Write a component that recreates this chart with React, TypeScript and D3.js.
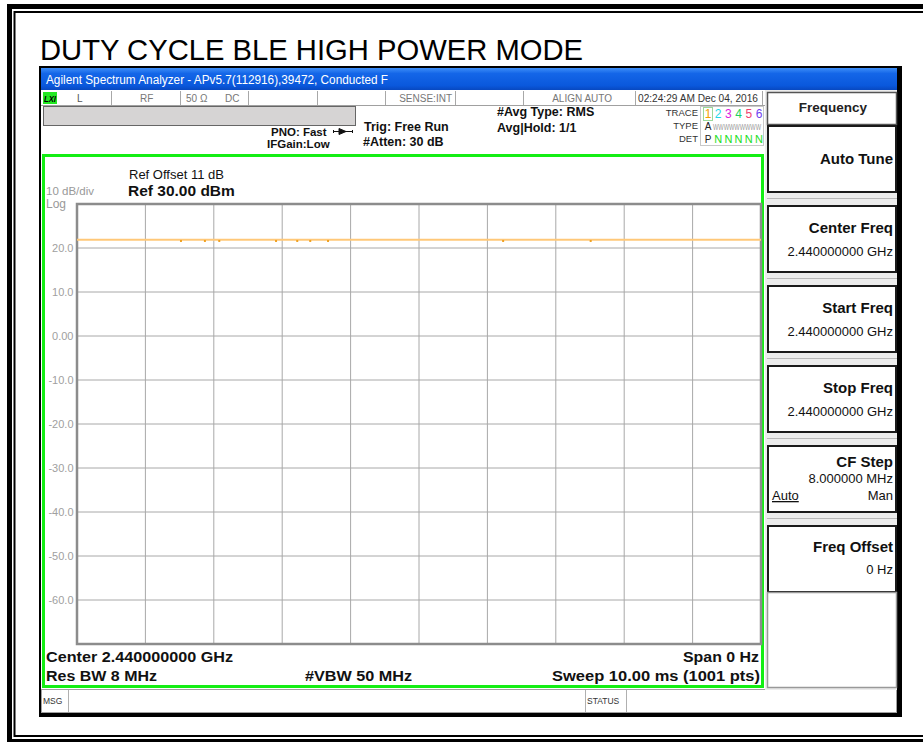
import React from "react";
import * as d3 from "d3";

// ---- data ----
const yTicks = [30, 20, 10, 0, -10, -20, -30, -40, -50, -60, -70];
const yTickLabels = ["", "20.0", "10.0", "0.00", "-10.0", "-20.0", "-30.0", "-40.0", "-50.0", "-60.0", ""];
const xDivs = [0, 1, 2, 3, 4, 5, 6, 7, 8, 9, 10]; // ms
const traceT = [0, 1, 2, 3, 4, 5, 6, 7, 8, 9, 10]; // ms
const traceV = [21.9, 21.9, 21.9, 21.9, 21.9, 21.9, 21.9, 21.9, 21.9, 21.9, 21.9]; // dBm
const glitchT = [1.52, 1.87, 2.08, 2.91, 3.22, 3.41, 3.67, 6.23, 7.51];
const glitchV = [21.6, 21.6, 21.6, 21.6, 21.6, 21.6, 21.6, 21.6, 21.6];
const softLabels = ["Auto Tune", "Center Freq", "Start Freq", "Stop Freq", "CF Step", "Freq Offset"];
const softValues = ["", "2.440000000 GHz", "2.440000000 GHz", "2.440000000 GHz", "8.000000 MHz", "0 Hz"];
const traceDigits = ["1", "2", "3", "4", "5", "6"];
const traceColors = ["#f5a000", "#22d8e8", "#e020e0", "#20d060", "#f04070", "#7040f0"];

const F = "'Liberation Sans', Arial, sans-serif";
const FN = "'Liberation Sans Narrow', 'Liberation Sans', Arial, sans-serif";

export default function App() {
  const x = d3.scaleLinear().domain([0, 10]).range([77, 761]);
  const y = d3.scaleLinear().domain([-70, 30]).range([644, 204]);
  const line = d3
    .line<number>()
    .x((_, i) => x(traceT[i]))
    .y((d) => y(d));

  const statusSeps = [111, 180, 248, 317, 385, 455, 523, 635, 762];

  return (
    <svg
      width={923}
      height={742}
      style={{ position: "absolute", left: 0, top: 0, background: "#fff" }}
      fontFamily={F}
    >
      {/* outer double frame */}
      <rect x={9.5} y={6.5} width={930} height={735} fill="none" stroke="#000" strokeWidth={5} />
      <rect x={14.5} y={12} width={920} height={724} fill="none" stroke="#000" strokeWidth={2} />

      {/* title */}
      <text x={40} y={60} fontSize={29} fill="#000" textLength={543} lengthAdjust="spacingAndGlyphs">
        DUTY CYCLE BLE HIGH POWER MODE
      </text>

      {/* screenshot frame */}
      <rect x={39} y={66} width={863} height={651} fill="#000" />
      <rect x={41} y={68} width={856} height={645} fill="#fff" />
      <defs>
        <linearGradient id="tb" x1="0" x2="0" y1="0" y2="1">
          <stop offset="0" stopColor="#3d8ef7" />
          <stop offset="0.25" stopColor="#1466e8" />
          <stop offset="0.8" stopColor="#0a58dc" />
          <stop offset="1" stopColor="#0848c0" />
        </linearGradient>
      </defs>
      <rect x={41} y={68} width={856} height={22} fill="url(#tb)" />
      <text x={46} y={84} fontSize={12} fill="#fff" textLength={342} lengthAdjust="spacingAndGlyphs">
        Agilent Spectrum Analyzer - APv5.7(112916),39472, Conducted F
      </text>

      {/* status row */}
      <rect x={41} y={90} width={724} height={15} fill="#fff" />
      <line x1={41} x2={765} y1={105.5} y2={105.5} stroke="#a0a0a0" />
      {statusSeps.map((s) => (
        <line key={s} x1={s + 0.5} x2={s + 0.5} y1={91} y2={105} stroke="#a8a8a8" />
      ))}
      <rect x={43} y={92} width={14} height={12} fill="#22e822" />
      <text x={44} y={102} fontSize={9} fontWeight="bold" fontStyle="italic" fill="#000" textLength={12} lengthAdjust="spacingAndGlyphs">LXI</text>
      <text x={77} y={102} fontSize={10} fill="#555">L</text>
      <text x={140} y={102} fontSize={10} fill="#777">RF</text>
      <text x={186} y={102} fontSize={10} fill="#777">50 Ω</text>
      <text x={225} y={102} fontSize={10} fill="#777">DC</text>
      <text x={452} y={102} fontSize={10} fill="#777" textAnchor="end">SENSE:INT</text>
      <text x={612} y={102} fontSize={10} fill="#777" textAnchor="end">ALIGN AUTO</text>
      <text x={638} y={102} fontSize={11} fill="#333" textLength={120} lengthAdjust="spacingAndGlyphs">
        02:24:29 AM Dec 04, 2016
      </text>

      {/* gray bar */}
      <rect x={43.5} y={106.5} width={312} height={19} fill="#d6d4d4" stroke="#666" />

      <text x={271} y={136} fontSize={11.5} fontWeight="bold" fill="#111">PNO: Fast</text>
      <g stroke="#111" fill="#111">
        <line x1={333} x2={353} y1={131.5} y2={131.5} strokeWidth={1} />
        <path d="M339,128.5 L346,131.5 L339,134.5 Z" />
        <line x1={333.5} x2={333.5} y1={130} y2={133} />
        <line x1={352.5} x2={352.5} y1={130} y2={133} />
      </g>
      <text x={267} y={148} fontSize={11.5} fontWeight="bold" fill="#111">IFGain:Low</text>
      <text x={364} y={131} fontSize={12.5} fontWeight="bold" fill="#111">Trig: Free Run</text>
      <text x={363} y={146} fontSize={12.5} fontWeight="bold" fill="#111">#Atten: 30 dB</text>
      <text x={497} y={116} fontSize={12.5} fontWeight="bold" fill="#111">#Avg Type: RMS</text>
      <text x={497} y={132} fontSize={12.5} fontWeight="bold" fill="#111">Avg|Hold: 1/1</text>

      {/* trace table */}
      <text x={698} y={116} fontSize={9.5} fill="#333" textAnchor="end">TRACE</text>
      <text x={698} y={129} fontSize={9.5} fill="#333" textAnchor="end">TYPE</text>
      <text x={698} y={142} fontSize={9.5} fill="#333" textAnchor="end">DET</text>
      <rect x={700.5} y={106.5} width={63} height={39} fill="none" stroke="#c8c8c8" />
      <rect x={703.5} y={107.5} width={9} height={13} fill="none" stroke="#9ad89a" />
      {traceDigits.map((dg, i) => (
        <text key={dg} x={708 + i * 10.2} y={118} fontSize={12} fill={traceColors[i]} textAnchor="middle">
          {dg}
        </text>
      ))}
      <text x={708} y={130} fontSize={10} fill="#222" textAnchor="middle">A</text>
      <text x={713} y={130} fontSize={8.5} fill="#9a9a9a" textLength={48} lengthAdjust="spacingAndGlyphs">WWWWWWWWW</text>
      <text x={708} y={143} fontSize={10} fill="#222" textAnchor="middle">P</text>
      {[1, 2, 3, 4, 5].map((i) => (
        <text key={i} x={708 + i * 10.2} y={143} fontSize={11} fill="#22dd22" textAnchor="middle">N</text>
      ))}

      {/* plot frame */}
      <rect x={43.5} y={155.5} width={719} height={531} fill="#fff" stroke="#14ee14" strokeWidth={3} />

      <text x={129} y={179} fontSize={13} fill="#111">Ref Offset 11 dB</text>
      <text x={128} y={196} fontSize={15.5} fontWeight="bold" fill="#111">Ref 30.00 dBm</text>
      <text x={46} y={194.5} fontSize={11.5} fill="#999">10 dB/div</text>
      <text x={46} y={207.5} fontSize={12} fill="#999">Log</text>

      {/* grid */}
      {yTicks.map((t) => (
        <line key={"h" + t} x1={x(0)} x2={x(10)} y1={y(t)} y2={y(t)} stroke="#a8a8a8" strokeWidth={1} />
      ))}
      {xDivs.map((t) => (
        <line key={"v" + t} x1={x(t)} x2={x(t)} y1={y(30)} y2={y(-70)} stroke="#a8a8a8" strokeWidth={1} />
      ))}
      <rect x={x(0)} y={y(30)} width={x(10) - x(0)} height={y(-70) - y(30)} fill="none" stroke="#8c8c8c" strokeWidth={2.5} />
      {yTicks.map((t, i) =>
        yTickLabels[i] ? (
          <text key={"l" + t} x={73.5} y={y(t) + 4} fontSize={11} fill="#a0a0a0" textAnchor="end">
            {yTickLabels[i]}
          </text>
        ) : null
      )}

      {/* trace */}
      <path d={line(traceV) || ""} fill="none" stroke="#ffc878" strokeWidth={2} />
      {glitchT.map((t, i) => (
        <rect key={"g" + i} x={x(t) - 1} y={y(glitchV[i]) - 1} width={2} height={2} fill="#f0a020" />
      ))}

      {/* bottom annotations */}
      <text x={46} y={662} fontSize={15} fontWeight="bold" fill="#111" fontFamily={FN} textLength={187} lengthAdjust="spacingAndGlyphs">
        Center 2.440000000 GHz
      </text>
      <text x={683} y={662} fontSize={15} fontWeight="bold" fill="#111" fontFamily={FN} textLength={76} lengthAdjust="spacingAndGlyphs">
        Span 0 Hz
      </text>
      <text x={46} y={681} fontSize={15} fontWeight="bold" fill="#111" fontFamily={FN} textLength={111} lengthAdjust="spacingAndGlyphs">
        Res BW 8 MHz
      </text>
      <text x={305} y={681} fontSize={15} fontWeight="bold" fill="#111" fontFamily={FN} textLength={107} lengthAdjust="spacingAndGlyphs">
        #VBW 50 MHz
      </text>
      <text x={552} y={681} fontSize={15} fontWeight="bold" fill="#111" fontFamily={FN} textLength={208} lengthAdjust="spacingAndGlyphs">
        Sweep  10.00 ms (1001 pts)
      </text>

      {/* message bar */}
      <rect x={41.5} y={689.5} width={855} height={23} fill="#fff" stroke="#a0a0a0" />
      <line x1={68.5} x2={68.5} y1={690} y2={712} stroke="#b0b0b0" />
      <line x1={585.5} x2={585.5} y1={690} y2={712} stroke="#b0b0b0" />
      <line x1={626.5} x2={626.5} y1={690} y2={712} stroke="#b0b0b0" />
      <text x={43} y={704} fontSize={8.5} fill="#333">MSG</text>
      <text x={587} y={704} fontSize={8.5} fill="#333">STATUS</text>

      {/* softkey panel */}
      <rect x={765} y={90} width={132} height={600} fill="#ececec" />
      <rect x={767.5} y={92.5} width={129} height={32} fill="#fff" stroke="#555" strokeWidth={1.5} />
      <text x={833} y={112} fontSize={13.5} fontWeight="bold" fill="#222" textAnchor="middle">Frequency</text>
      {softLabels.map((lab, i) => {
        const top = 125 + i * 80;
        return (
          <g key={lab}>
            {i > 0 && <line x1={767} x2={897} y1={top - 6.5} y2={top - 6.5} stroke="#b8b8b8" />}
            <rect x={768} y={top + 1} width={128} height={66} fill="#fff" stroke="#1a1a1a" strokeWidth={2} />
            {i === 0 && (
              <text x={893} y={164} fontSize={15} fontWeight="bold" fill="#111" textAnchor="end">{lab}</text>
            )}
            {i > 0 && i < 4 && (
              <>
                <text x={893} y={top + 28} fontSize={15} fontWeight="bold" fill="#111" textAnchor="end">{lab}</text>
                <text x={893} y={top + 51} fontSize={13} fill="#111" textAnchor="end">{softValues[i]}</text>
              </>
            )}
            {i === 4 && (
              <>
                <text x={893} y={top + 22} fontSize={15} fontWeight="bold" fill="#111" textAnchor="end">{lab}</text>
                <text x={893} y={top + 38} fontSize={13} fill="#111" textAnchor="end">{softValues[i]}</text>
                <text x={772} y={top + 55} fontSize={13} fill="#111" textDecoration="underline">Auto</text>
                <text x={893} y={top + 55} fontSize={13} fill="#111" textAnchor="end">Man</text>
              </>
            )}
            {i === 5 && (
              <>
                <text x={893} y={top + 27} fontSize={15} fontWeight="bold" fill="#111" textAnchor="end">{lab}</text>
                <text x={893} y={top + 49} fontSize={13} fill="#111" textAnchor="end">{softValues[i]}</text>
              </>
            )}
          </g>
        );
      })}
      <rect x={767.5} y={592.5} width={129} height={95} fill="#fff" stroke="#999" strokeWidth={1.5} />
    </svg>
  );
}
